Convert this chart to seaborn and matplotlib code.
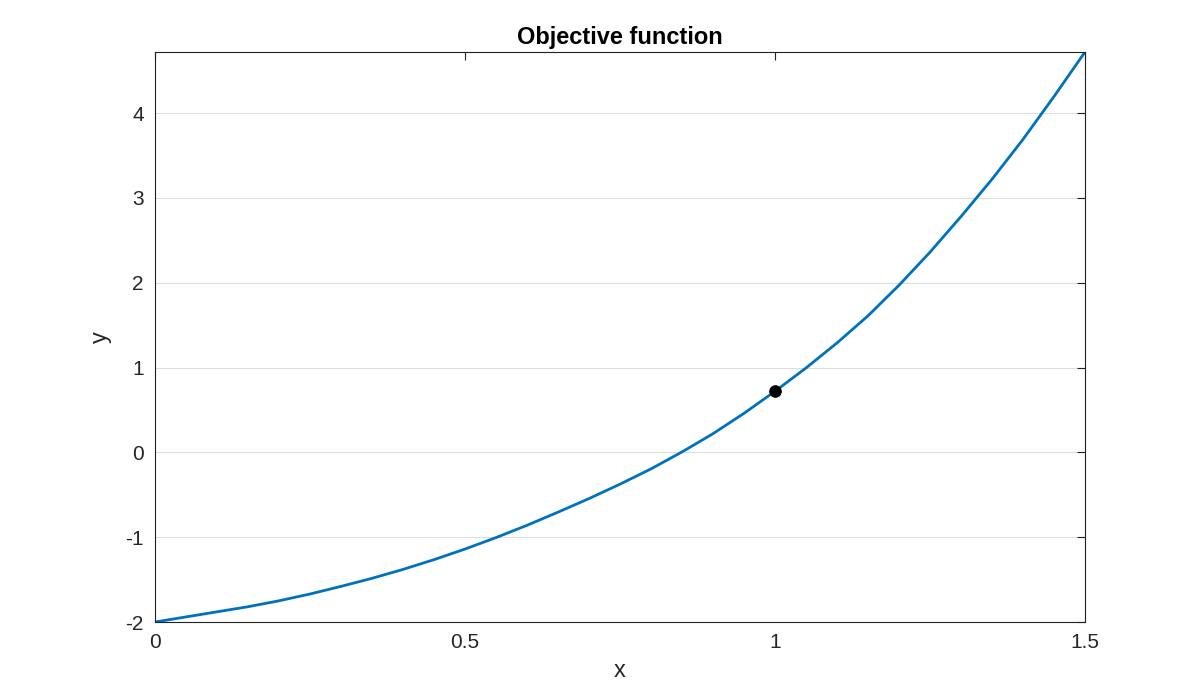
import matplotlib
matplotlib.use("Agg")
import matplotlib.pyplot as plt
import seaborn as sns
import pandas as pd

x_vals = [0.0, 0.05, 0.1, 0.15, 0.2, 0.25, 0.3, 0.35, 0.4, 0.45, 0.5, 0.55, 0.6, 0.65, 0.7, 0.75,
          0.8, 0.85, 0.9, 0.95, 1.0, 1.05, 1.1, 1.15, 1.2, 1.25, 1.3, 1.35, 1.4, 1.45, 1.5]
y_vals = [-2.0, -1.94, -1.88, -1.82, -1.75, -1.67, -1.58, -1.485, -1.38, -1.265, -1.14, -1.005, -0.86,
          -0.705, -0.545, -0.375, -0.195, 0.005, 0.22, 0.46, 0.72, 0.995, 1.29, 1.61, 1.97, 2.36,
          2.78, 3.22, 3.69, 4.195, 4.72]
point_x = [1.0]
point_y = [0.718]
x_ticks = [0, 0.5, 1, 1.5]
x_tick_labels = ["0", "0.5", "1", "1.5"]
y_ticks = [-2, -1, 0, 1, 2, 3, 4]

sns.set_style("white")
plt.rcParams['font.family'] = ['Liberation Sans', 'DejaVu Sans']
plt.rcParams['axes.unicode_minus'] = False

fig = plt.figure(figsize=(12, 7), dpi=100)
ax = fig.add_axes([155/1200, 1-622/700, 930/1200, 570/700])
df = pd.DataFrame({"x": x_vals, "y": y_vals})
sns.lineplot(data=df, x="x", y="y", ax=ax, color="#0072BD", linewidth=2)
sns.scatterplot(x=point_x, y=point_y, ax=ax, color="black", s=70, zorder=5, edgecolor="black")

ax.set_xlim(0, 1.5)
ax.set_ylim(-2, 4.72)
ax.set_xticks(x_ticks)
ax.set_xticklabels(x_tick_labels)
ax.set_yticks(y_ticks)
ax.yaxis.grid(True, color="#dddddd", linewidth=0.8)
ax.xaxis.grid(False)
ax.tick_params(direction="in", length=6, width=0.8, top=True, right=True, labelsize=15,
               color="#222222", labelcolor="#262626", pad=8)
for s in ax.spines.values():
    s.set_color("#222222"); s.set_linewidth(0.8)
ax.set_xlabel("x", fontsize=17, labelpad=6, color="#262626")
ax.set_ylabel("y", fontsize=17, labelpad=10, color="#262626")
ax.set_title("Objective function", fontsize=17, fontweight="bold", pad=6, color="black")
fig.savefig("out.png", dpi=100)
